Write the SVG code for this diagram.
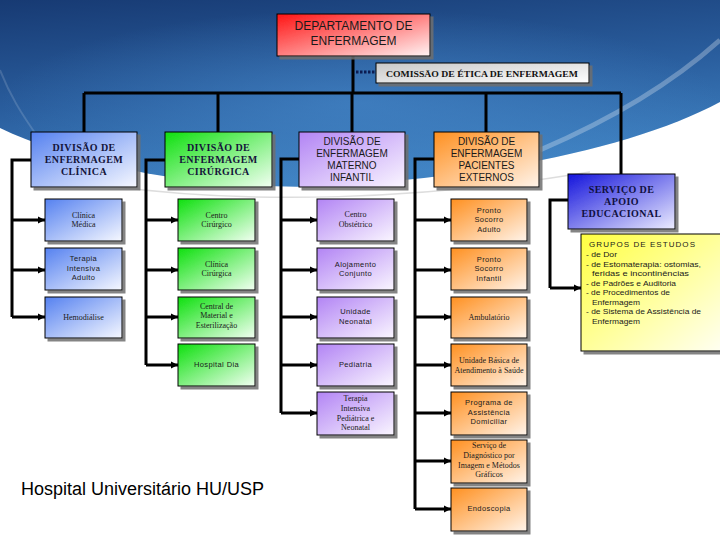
<svg xmlns="http://www.w3.org/2000/svg" width="720" height="540" viewBox="0 0 720 540">
<defs>
<linearGradient id="bg" x1="0" y1="0" x2="0.3" y2="1">
<stop offset="0" stop-color="#173a73"/>
<stop offset="0.55" stop-color="#2a5e9e"/>
<stop offset="1" stop-color="#3f82c2"/>
</linearGradient>
<radialGradient id="glow" cx="0.5" cy="0.55" r="0.5">
<stop offset="0" stop-color="#4a8ed0" stop-opacity="0.55"/>
<stop offset="1" stop-color="#4a8ed0" stop-opacity="0"/>
</radialGradient>
<linearGradient id="gRed" x1="0" y1="0" x2="1" y2="1"><stop offset="0" stop-color="#ff1414"/><stop offset="0.5" stop-color="#ff8080"/><stop offset="1" stop-color="#fff4f4"/></linearGradient>
<linearGradient id="gGray" x1="0" y1="0" x2="1" y2="1"><stop offset="0" stop-color="#c8c8c8"/><stop offset="1" stop-color="#ffffff"/></linearGradient>
<linearGradient id="gBlue" x1="0" y1="0" x2="1" y2="1"><stop offset="0" stop-color="#5581f0"/><stop offset="1" stop-color="#f6f8ff"/></linearGradient>
<linearGradient id="gGreen" x1="0" y1="0" x2="1" y2="1"><stop offset="0" stop-color="#0ee00e"/><stop offset="1" stop-color="#f2fff2"/></linearGradient>
<linearGradient id="gPurple" x1="0" y1="0" x2="1" y2="1"><stop offset="0" stop-color="#b284f4"/><stop offset="1" stop-color="#faf6ff"/></linearGradient>
<linearGradient id="gOrange" x1="0" y1="0" x2="1" y2="1"><stop offset="0" stop-color="#ff9020"/><stop offset="1" stop-color="#fff4ea"/></linearGradient>
<linearGradient id="gNavy" x1="0" y1="0" x2="1" y2="1"><stop offset="0" stop-color="#1414dc"/><stop offset="1" stop-color="#ececff"/></linearGradient>
<linearGradient id="gYellow" x1="0" y1="0" x2="1" y2="1"><stop offset="0" stop-color="#ffff40"/><stop offset="1" stop-color="#fffff2"/></linearGradient>
<filter id="sh" x="-10%" y="-10%" width="130%" height="140%">
<feDropShadow dx="3" dy="3" stdDeviation="0.4" flood-color="#6e6e6e" flood-opacity="0.85"/>
</filter>
<marker id="arr" markerUnits="userSpaceOnUse" markerWidth="8" markerHeight="8" refX="7" refY="4" orient="auto">
<path d="M0,0.5 L7,4 L0,7.5 z" fill="#000"/>
</marker>
<style>
.box{stroke:#000;stroke-width:1;filter:url(#sh)}
.ln{fill:none;stroke:#000;stroke-width:3}
.ar{fill:none;stroke:#000;stroke-width:3;marker-end:url(#arr)}
.dv{font-family:"Liberation Serif","DejaVu Serif",serif;font-weight:bold;font-size:10px;letter-spacing:0.4px;fill:#14143a;text-anchor:middle}
.ds{font-family:"Liberation Sans",Arial,sans-serif;font-size:10px;fill:#1a1a1a;text-anchor:middle}
.cs{font-family:"Liberation Serif","DejaVu Serif",serif;font-size:8px;fill:#1a1a1a;text-anchor:middle}
.cn{font-family:"Liberation Sans",Arial,sans-serif;font-size:7.5px;letter-spacing:0.4px;fill:#1a1a1a;text-anchor:middle}
.yl{font-family:"Liberation Sans",Arial,sans-serif;font-size:8px;fill:#1a1a1a}
</style>
</defs>

<g id="background">
<rect width="720" height="540" fill="#ffffff"/>
<path d="M0,0 H720 V102 C640,145 500,176 330,186 C200,191 80,166 0,128 Z" fill="url(#bg)"/>
<path d="M0,0 H720 V102 C640,145 500,176 330,186 C200,191 80,166 0,128 Z" fill="url(#glow)"/>
<path d="M540,150 C610,120 670,85 720,40" fill="none" stroke="#ffffff" stroke-opacity="0.28" stroke-width="5"/>
<path d="M0,70 C10,95 20,112 40,140" fill="none" stroke="#ffffff" stroke-opacity="0.15" stroke-width="2"/>
<path d="M110,186 C250,205 420,200 590,172" fill="none" stroke="#cfcfcf" stroke-opacity="0.7" stroke-width="1.5"/>
</g>

<g id="connectors">
<path class="ln" d="M353,56 V93"/>
<path class="ln" d="M84,93 H621"/>
<path class="ln" d="M84,93 V132 M218,93 V132 M352,93 V132 M486,93 V132 M621,93 V174"/>
<path d="M356,72 H376" fill="none" stroke="#0c1c52" stroke-width="3" stroke-dasharray="2.5,1.5"/>
<path class="ln" d="M31,160 H12 V317"/>
<path class="ar" d="M12,220 H45"/><path class="ar" d="M12,270 H45"/><path class="ar" d="M12,317 H45"/>
<path class="ln" d="M165,160 H146 V365"/>
<path class="ar" d="M146,220 H178"/><path class="ar" d="M146,270 H178"/><path class="ar" d="M146,317 H178"/><path class="ar" d="M146,365 H178"/>
<path class="ln" d="M299,159 H281 V413"/>
<path class="ar" d="M281,220 H317"/><path class="ar" d="M281,270 H317"/><path class="ar" d="M281,317 H317"/><path class="ar" d="M281,365 H317"/><path class="ar" d="M281,413 H317"/>
<path class="ln" d="M434,159 H415 V509"/>
<path class="ar" d="M415,220 H451"/><path class="ar" d="M415,270 H451"/><path class="ar" d="M415,317 H451"/><path class="ar" d="M415,365 H451"/><path class="ar" d="M415,413 H451"/><path class="ar" d="M415,461 H451"/><path class="ar" d="M415,509 H451"/>
<path class="ln" d="M568,200 H550 V288"/>
<path class="ar" d="M550,288 H581"/>
</g>

<g id="departamento">
<rect class="box" x="277" y="14" width="153" height="42" fill="url(#gRed)"/>
<text class="ds" x="353.5" y="30" style="font-size:12px">DEPARTAMENTO DE</text>
<text class="ds" x="353.5" y="45" style="font-size:12px">ENFERMAGEM</text>
</g>

<g id="comissao">
<rect class="box" x="376" y="63" width="213" height="20" fill="url(#gGray)"/>
<text x="386" y="76.5" textLength="192" lengthAdjust="spacingAndGlyphs" style="font-family:'Liberation Serif','DejaVu Serif',serif;font-weight:bold;font-size:9px;fill:#111">COMISSÃO DE ÉTICA DE ENFERMAGEM</text>
</g>

<g id="div-clinica">
<rect class="box" x="31" y="132" width="106" height="55" fill="url(#gBlue)"/>
<text class="dv" x="84" y="151">DIVISÃO DE</text>
<text class="dv" x="84" y="163">ENFERMAGEM</text>
<text class="dv" x="84" y="175">CLÍNICA</text>
</g>
<g id="div-cirurgica">
<rect class="box" x="165" y="132" width="107" height="55" fill="url(#gGreen)"/>
<text class="dv" x="218.5" y="151">DIVISÃO DE</text>
<text class="dv" x="218.5" y="163">ENFERMAGEM</text>
<text class="dv" x="218.5" y="175">CIRÚRGICA</text>
</g>
<g id="div-materno">
<rect class="box" x="299" y="132" width="106" height="55" fill="url(#gPurple)"/>
<text class="ds" x="352" y="145">DIVISÃO DE</text>
<text class="ds" x="352" y="157">ENFERMAGEM</text>
<text class="ds" x="352" y="169">MATERNO</text>
<text class="ds" x="352" y="181">INFANTIL</text>
</g>
<g id="div-pacientes">
<rect class="box" x="434" y="132" width="105" height="55" fill="url(#gOrange)"/>
<text class="ds" x="486.5" y="145">DIVISÃO DE</text>
<text class="ds" x="486.5" y="157">ENFERMAGEM</text>
<text class="ds" x="486.5" y="169">PACIENTES</text>
<text class="ds" x="486.5" y="181">EXTERNOS</text>
</g>
<g id="servico-apoio">
<rect class="box" x="568" y="174" width="107" height="55" fill="url(#gNavy)"/>
<text class="dv" x="621.5" y="193" style="fill:#101040">SERVIÇO DE</text>
<text class="dv" x="621.5" y="205" style="fill:#101040">APOIO</text>
<text class="dv" x="621.5" y="217" style="fill:#101040">EDUCACIONAL</text>
</g>

<g id="clinica-medica"><rect class="box" x="45" y="199" width="77" height="42" fill="url(#gBlue)"/><text class="cs" x="83.5" y="218">Clínica</text><text class="cs" x="83.5" y="227">Médica</text></g>
<g id="uti-adulto"><rect class="box" x="45" y="248" width="77" height="42" fill="url(#gBlue)"/><text class="cn" x="83.5" y="261">Terapia</text><text class="cn" x="83.5" y="271">Intensiva</text><text class="cn" x="83.5" y="280">Adulto</text></g>
<g id="hemodialise"><rect class="box" x="45" y="297" width="77" height="41" fill="url(#gBlue)"/><text class="cs" x="83.5" y="320">Hemodiálise</text></g>

<g id="centro-cirurgico"><rect class="box" x="178" y="199" width="77" height="42" fill="url(#gGreen)"/><text class="cs" x="216.5" y="218">Centro</text><text class="cs" x="216.5" y="227">Cirúrgico</text></g>
<g id="clinica-cirurgica"><rect class="box" x="178" y="248" width="77" height="42" fill="url(#gGreen)"/><text class="cs" x="216.5" y="267">Clínica</text><text class="cs" x="216.5" y="276">Cirúrgica</text></g>
<g id="central-material"><rect class="box" x="178" y="297" width="77" height="41" fill="url(#gGreen)"/><text class="cs" x="216.5" y="309">Central de</text><text class="cs" x="216.5" y="318">Material e</text><text class="cs" x="216.5" y="328">Esterilização</text></g>
<g id="hospital-dia"><rect class="box" x="178" y="344" width="77" height="42" fill="url(#gGreen)"/><text class="cn" x="216.5" y="367">Hospital Dia</text></g>

<g id="centro-obstetrico"><rect class="box" x="317" y="199" width="77" height="42" fill="url(#gPurple)"/><text class="cs" x="355.5" y="217">Centro</text><text class="cs" x="355.5" y="227">Obstétrico</text></g>
<g id="alojamento"><rect class="box" x="317" y="248" width="77" height="42" fill="url(#gPurple)"/><text class="cn" x="355.5" y="267">Alojamento</text><text class="cn" x="355.5" y="276">Conjunto</text></g>
<g id="unidade-neonatal"><rect class="box" x="317" y="297" width="77" height="41" fill="url(#gPurple)"/><text class="cn" x="355.5" y="314">Unidade</text><text class="cn" x="355.5" y="324">Neonatal</text></g>
<g id="pediatria"><rect class="box" x="317" y="344" width="77" height="42" fill="url(#gPurple)"/><text class="cn" x="355.5" y="367">Pediatria</text></g>
<g id="uti-pediatrica"><rect class="box" x="317" y="392" width="77" height="43" fill="url(#gPurple)"/><text class="cs" x="355.5" y="401">Terapia</text><text class="cs" x="355.5" y="411">Intensiva</text><text class="cs" x="355.5" y="421">Pediátrica e</text><text class="cs" x="355.5" y="430">Neonatal</text></g>

<g id="ps-adulto"><rect class="box" x="451" y="199" width="76" height="42" fill="url(#gOrange)"/><text class="cn" x="489" y="213">Pronto</text><text class="cn" x="489" y="222">Socorro</text><text class="cn" x="489" y="232">Adulto</text></g>
<g id="ps-infantil"><rect class="box" x="451" y="248" width="76" height="42" fill="url(#gOrange)"/><text class="cn" x="489" y="262">Pronto</text><text class="cn" x="489" y="271">Socorro</text><text class="cn" x="489" y="281">Infantil</text></g>
<g id="ambulatorio"><rect class="box" x="451" y="297" width="76" height="41" fill="url(#gOrange)"/><text class="cs" x="489" y="320">Ambulatório</text></g>
<g id="ubas"><rect class="box" x="451" y="344" width="76" height="42" fill="url(#gOrange)"/><text class="cs" x="489" y="363">Unidade Básica de</text><text class="cs" x="489" y="373">Atendimento à Saúde</text></g>
<g id="programa-domiciliar"><rect class="box" x="451" y="392" width="76" height="43" fill="url(#gOrange)"/><text class="cn" x="489" y="405">Programa de</text><text class="cn" x="489" y="415">Assistência</text><text class="cn" x="489" y="424">Domiciliar</text></g>
<g id="diagnostico-imagem"><rect class="box" x="451" y="440" width="76" height="43" fill="url(#gOrange)"/><text class="cs" x="489" y="448">Serviço de</text><text class="cs" x="489" y="458">Diagnóstico por</text><text class="cs" x="489" y="468">Imagem e Métodos</text><text class="cs" x="489" y="477">Gráficos</text></g>
<g id="endoscopia"><rect class="box" x="451" y="488" width="76" height="43" fill="url(#gOrange)"/><text class="cn" x="489" y="511">Endoscopia</text></g>

<g id="grupos-estudos">
<rect class="box" x="581" y="234" width="141" height="117" fill="url(#gYellow)"/>
<text class="yl" x="589" y="247" textLength="106" lengthAdjust="spacing">GRUPOS DE ESTUDOS</text>
<text class="yl" x="586" y="257" textLength="31" lengthAdjust="spacingAndGlyphs">- de Dor</text>
<text class="yl" x="586" y="266.5" textLength="115" lengthAdjust="spacingAndGlyphs">- de Estomaterapia: ostomias,</text>
<text class="yl" x="592" y="276" textLength="97" lengthAdjust="spacingAndGlyphs">feridas e incontinências</text>
<text class="yl" x="586" y="285.5" textLength="90" lengthAdjust="spacingAndGlyphs">- de Padrões e Auditoria</text>
<text class="yl" x="586" y="295" textLength="84" lengthAdjust="spacingAndGlyphs">- de Procedimentos de</text>
<text class="yl" x="592" y="304.5" textLength="48" lengthAdjust="spacingAndGlyphs">Enfermagem</text>
<text class="yl" x="586" y="314" textLength="115" lengthAdjust="spacingAndGlyphs">- de Sistema de Assistência de</text>
<text class="yl" x="592" y="323.5" textLength="48" lengthAdjust="spacingAndGlyphs">Enfermagem</text>
</g>

<g id="footer">
<text x="21" y="495" style="font-family:'Liberation Sans',Arial,sans-serif;font-size:18px;fill:#000">Hospital Universitário HU/USP</text>
</g>
</svg>
